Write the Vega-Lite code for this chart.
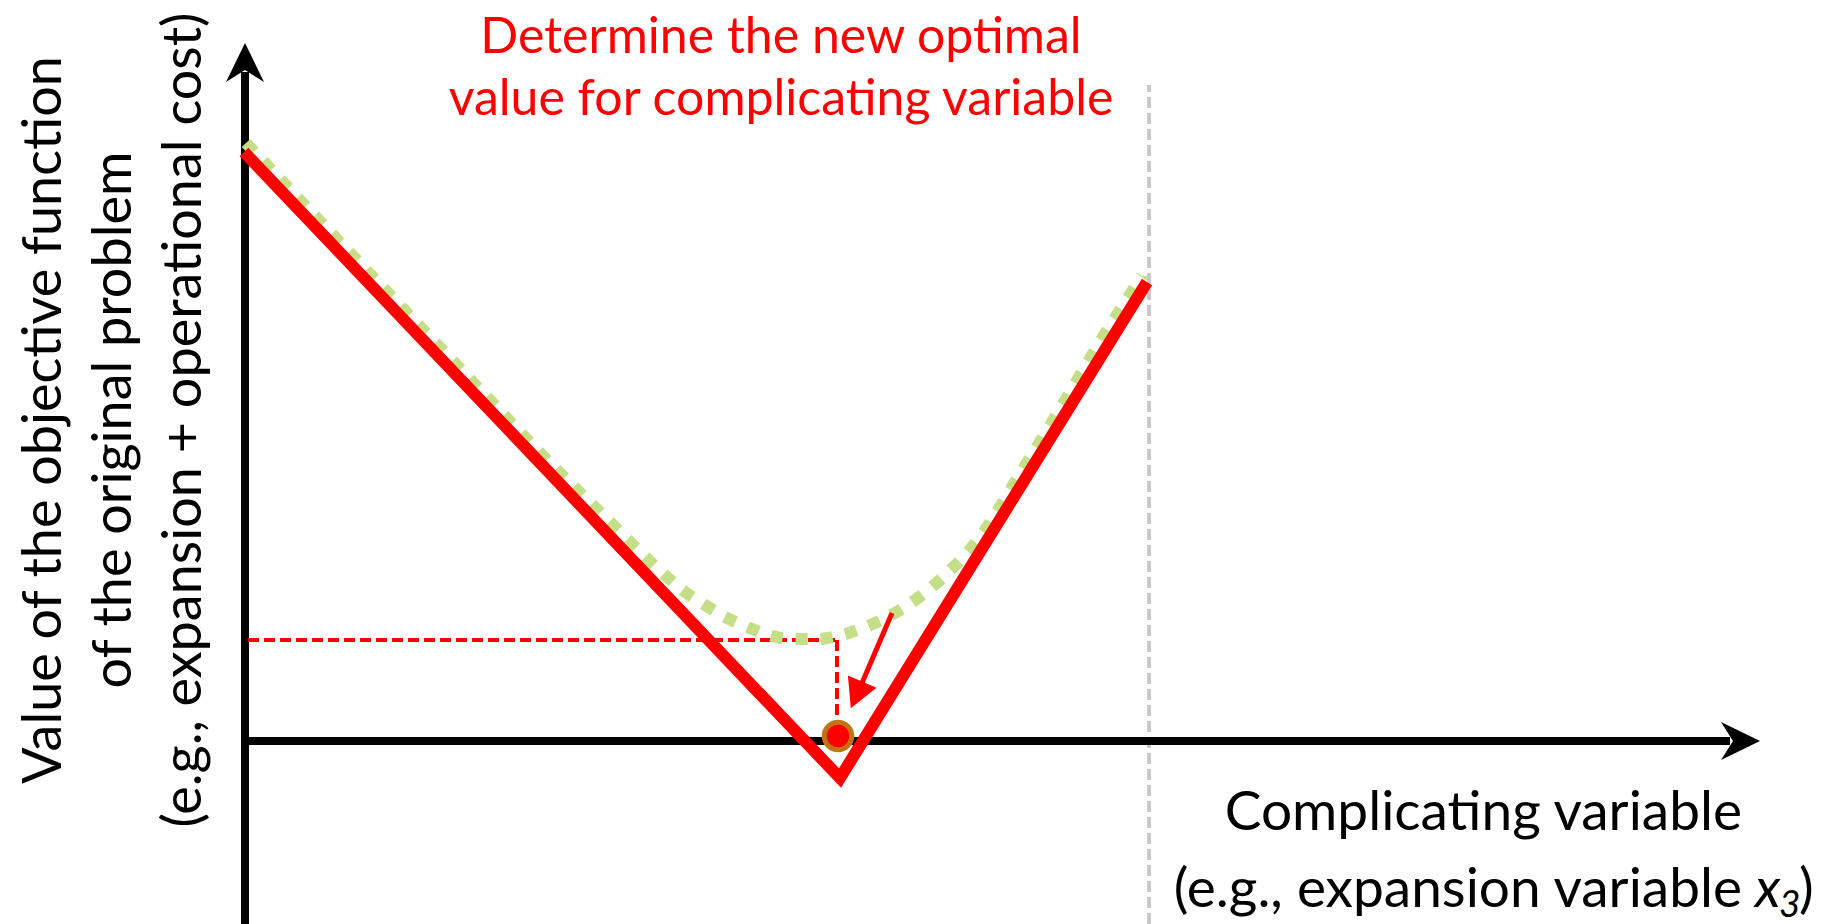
{
  "$schema": "https://vega.github.io/schema/vega-lite/v6.json",
  "width": 1843,
  "height": 924,
  "autosize": {"type": "none"},
  "padding": 0,
  "background": "white",
  "config": {"view": {"stroke": null}},
  "datasets": {
    "axisLines": [
      {"x": 0, "y": -1.83, "x2": 0, "y2": 6.69},
      {"x": -0.04, "y": 0, "x2": 14.85, "y2": 0}
    ],
    "axisHeads": [
      {"x": 0, "y": 6.78, "angle": 0},
      {"x": 14.95, "y": 0, "angle": 90}
    ],
    "boundary": [
      {"x": 9.04, "y": -1.83, "x2": 9.04, "y2": 6.56}
    ],
    "guides": [
      {"x": 0.03, "y": 1.01, "x2": 5.92, "y2": 1.01},
      {"x": 5.92, "y": 1.01, "x2": 5.92, "y2": 0.19}
    ],
    "trueCost": [
      {"x": 0.01, "y": 5.98},
      {"x": 1.05, "y": 4.88},
      {"x": 2.05, "y": 3.83},
      {"x": 3.05, "y": 2.78},
      {"x": 3.65, "y": 2.19},
      {"x": 4.22, "y": 1.64},
      {"x": 4.40, "y": 1.49},
      {"x": 4.60, "y": 1.36},
      {"x": 4.80, "y": 1.24},
      {"x": 5.02, "y": 1.14},
      {"x": 5.23, "y": 1.06},
      {"x": 5.48, "y": 1.02},
      {"x": 5.72, "y": 1.02},
      {"x": 5.97, "y": 1.06},
      {"x": 6.18, "y": 1.13},
      {"x": 6.55, "y": 1.31},
      {"x": 6.95, "y": 1.61},
      {"x": 7.35, "y": 2.04},
      {"x": 7.75, "y": 2.67},
      {"x": 8.15, "y": 3.32},
      {"x": 8.55, "y": 3.99},
      {"x": 8.97, "y": 4.65}
    ],
    "cuts": [
      {"x": -0.01, "y": 5.89},
      {"x": 5.95, "y": -0.37},
      {"x": 9.02, "y": 4.59}
    ],
    "stepShaft": [
      {"x": 6.47, "y": 1.28, "x2": 6.11, "y2": 0.44}
    ],
    "stepHead": [
      {"x": 6.115, "y": 0.46, "angle": 23}
    ],
    "optimum": [
      {"x": 5.93, "y": 0.05}
    ],
    "headline": [
      {"x": 5.36, "y": 6.88, "text": "Determine the new optimal"},
      {"x": 5.36, "y": 6.26, "text": "value for complicating variable"}
    ],
    "yTitle": [
      {"x": -1.84, "y": 3.21, "text": "Value of the objective function"},
      {"x": -1.14, "y": 3.21, "text": "of the original problem"},
      {"x": -0.44, "y": 3.21, "text": "(e.g., expansion + operational cost)"}
    ],
    "xTitle": [
      {"x": 14.97, "y": -0.89, "text": "Complicating variable"},
      {"x": 14.97, "y": -1.66, "text": "(e.g., expansion variable"}
    ],
    "xTitleVar": [
      {"x": 15.10, "y": -1.66, "text": "x"}
    ],
    "xTitleSub": [
      {"x": 15.34, "y": -1.76, "text": "3"}
    ],
    "xTitleClose": [
      {"x": 15.54, "y": -1.66, "text": ")"}
    ]
  },
  "encoding": {
    "x": {"field": "x", "type": "quantitative", "scale": {"domain": [-2.45, 15.98], "nice": false, "zero": false}, "axis": null},
    "y": {"field": "y", "type": "quantitative", "scale": {"domain": [-1.83, 7.41], "nice": false, "zero": false}, "axis": null}
  },
  "layer": [
    {
      "data": {"name": "boundary"},
      "mark": {"type": "rule", "color": "#c8c8c8", "strokeWidth": 4, "strokeDash": [11, 5]},
      "encoding": {"x2": {"field": "x2"}, "y2": {"field": "y2"}}
    },
    {
      "data": {"name": "axisLines"},
      "mark": {"type": "rule", "color": "black", "strokeWidth": 8, "strokeCap": "butt"},
      "encoding": {"x2": {"field": "x2"}, "y2": {"field": "y2"}}
    },
    {
      "data": {"name": "axisHeads"},
      "mark": {"type": "point", "filled": true, "color": "black", "opacity": 1, "size": 1600, "shape": "M0,-1 L0.95,0.95 L0,0.35 L-0.95,0.95 Z"},
      "encoding": {"angle": {"field": "angle", "type": "quantitative", "scale": null}}
    },
    {
      "data": {"name": "guides"},
      "mark": {"type": "rule", "color": "#ff0000", "strokeWidth": 4, "strokeDash": [11, 5]},
      "encoding": {"x2": {"field": "x2"}, "y2": {"field": "y2"}}
    },
    {
      "data": {"name": "trueCost"},
      "mark": {"type": "line", "color": "#c4df87", "strokeWidth": 12, "strokeDash": [12, 13], "strokeCap": "butt", "interpolate": "monotone"},
      "encoding": {}
    },
    {
      "data": {"name": "cuts"},
      "mark": {"type": "line", "color": "#ff0000", "strokeWidth": 12, "strokeCap": "butt", "strokeJoin": "miter"},
      "encoding": {}
    },
    {
      "data": {"name": "stepShaft"},
      "mark": {"type": "rule", "color": "#ff0000", "strokeWidth": 5},
      "encoding": {"x2": {"field": "x2"}, "y2": {"field": "y2"}}
    },
    {
      "data": {"name": "stepHead"},
      "mark": {"type": "point", "filled": true, "color": "#ff0000", "opacity": 1, "size": 840, "shape": "M0,1 L-1.07,-1 L1.07,-1 Z"},
      "encoding": {"angle": {"field": "angle", "type": "quantitative", "scale": null}}
    },
    {
      "data": {"name": "optimum"},
      "mark": {"type": "point", "shape": "circle", "filled": true, "fill": "#ff0000", "stroke": "#c07412", "strokeWidth": 5, "opacity": 1, "size": 760},
      "encoding": {}
    },
    {
      "data": {"name": "headline"},
      "mark": {"type": "text", "font": "Lato", "fontSize": 50, "color": "#ff0000", "align": "center", "baseline": "alphabetic"},
      "encoding": {"text": {"field": "text"}}
    },
    {
      "data": {"name": "yTitle"},
      "mark": {"type": "text", "font": "Lato", "fontSize": 54, "color": "black", "align": "center", "baseline": "alphabetic", "angle": 270},
      "encoding": {"text": {"field": "text"}}
    },
    {
      "data": {"name": "xTitle"},
      "mark": {"type": "text", "font": "Lato", "fontSize": 55, "color": "black", "align": "right", "baseline": "alphabetic"},
      "encoding": {"text": {"field": "text"}}
    },
    {
      "data": {"name": "xTitleVar"},
      "mark": {"type": "text", "font": "Lato", "fontSize": 55, "fontStyle": "italic", "color": "black", "align": "left", "baseline": "alphabetic"},
      "encoding": {"text": {"field": "text"}}
    },
    {
      "data": {"name": "xTitleSub"},
      "mark": {"type": "text", "font": "Lato", "fontSize": 37, "fontStyle": "italic", "color": "black", "align": "left", "baseline": "alphabetic"},
      "encoding": {"text": {"field": "text"}}
    },
    {
      "data": {"name": "xTitleClose"},
      "mark": {"type": "text", "font": "Lato", "fontSize": 55, "color": "black", "align": "left", "baseline": "alphabetic"},
      "encoding": {"text": {"field": "text"}}
    }
  ]
}
